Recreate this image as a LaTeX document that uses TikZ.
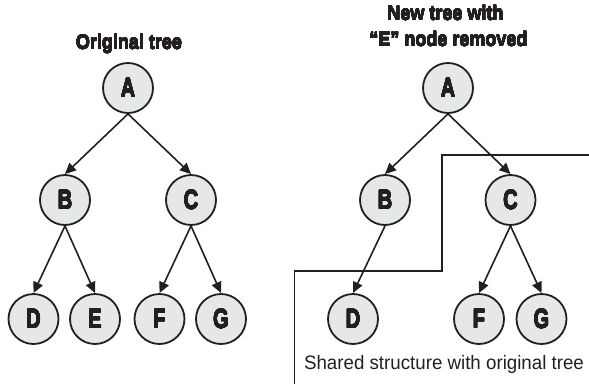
\documentclass[tikz,border=0pt]{standalone}
\usepackage{fontspec}
\usepackage[copies]{contour}
\contournumber{16}
\setmainfont{Liberation Sans}
\newfontface\headfont{Liberation Sans Bold}[FakeStretch=0.9]
\newfontface\letterfont{Liberation Sans Bold}[FakeStretch=0.74]
\newfontface\notefont{Liberation Sans}[FakeStretch=0.96]
\usetikzlibrary{arrows.meta}
\definecolor{ink}{HTML}{231F20}
\definecolor{nodefill}{HTML}{E6E7E8}
% heavier strokes for the bold labels
\newcommand{\heavy}[2]{{\contourlength{#1}\contour{ink}{#2}}}
\tikzset{
  treenode/.style={circle, draw=ink, line width=1.8pt, fill=nodefill,
    minimum size=50pt, inner sep=0pt, text=ink,
    font=\letterfont\fontsize{27}{27}\selectfont},
  link/.style={draw=ink, line width=1.6pt, -{Triangle[length=11pt,width=10pt]}},
  heading/.style={text=ink, inner sep=0pt, anchor=base,
    font=\headfont\fontsize{20}{20}\selectfont},
  caption/.style={text=ink, inner sep=0pt, anchor=base,
    font=\notefont\fontsize{19.5}{19.5}\selectfont},
  boundary/.style={draw=ink, line width=1.6pt}
}
\begin{document}
\begin{tikzpicture}[x=1pt,y=-1pt]
\useasboundingbox (0,0) rectangle (589,384);

% original tree
\node[heading] (titleL) at (129,49) {\heavy{0.15pt}{Original tree}};
\node[treenode] (lA) at (128,88) {\heavy{0.25pt}{A}};
\node[treenode] (lB) at (65,200) {\heavy{0.25pt}{B}};
\node[treenode] (lC) at (191,200) {\heavy{0.25pt}{C}};
\node[treenode] (lD) at (33.5,319) {\heavy{0.25pt}{D}};
\node[treenode] (lE) at (95,319) {\heavy{0.25pt}{E}};
\node[treenode] (lF) at (159.5,319) {\heavy{0.25pt}{F}};
\node[treenode] (lG) at (221,319) {\heavy{0.25pt}{G}};
\draw[link] (lA.south) -- (lB.north);
\draw[link] (lA.south) -- (lC.north);
\draw[link] (lB.south) -- (lD.north);
\draw[link] (lB.south) -- (lE.north);
\draw[link] (lC.south) -- (lF.north);
\draw[link] (lC.south) -- (lG.north);

% new tree after removing E
\node[heading] (titleR1) at (445.5,20) {\heavy{0.15pt}{New tree with}};
\node[heading] (titleR2) at (448.5,46) {\heavy{0.15pt}{“E” node removed}};
\node[treenode] (rA) at (448,88) {\heavy{0.25pt}{A}};
\node[treenode] (rB) at (385,200) {\heavy{0.25pt}{B}};
\node[treenode] (rC) at (510.5,200) {\heavy{0.25pt}{C}};
\node[treenode] (rD) at (353,319) {\heavy{0.25pt}{D}};
\node[treenode] (rF) at (479,319) {\heavy{0.25pt}{F}};
\node[treenode] (rG) at (541.5,319) {\heavy{0.25pt}{G}};
\draw[link] (rA.south) -- (rB.north);
\draw[link] (rA.south) -- (rC.north);
\draw[link] (rB.south) -- (rD.north);
\draw[link] (rC.south) -- (rF.north);
\draw[link] (rC.south) -- (rG.north);

% outline of the shared part
\coordinate (sharedTop) at (589,155);
\coordinate (sharedBottom) at (294.5,384);
\draw[boundary] (sharedTop) -- (442,155) -- (442,271) -- (294.5,271) -- (sharedBottom);
\node[caption] (sharedLabel) at (444,369) {Shared structure with original tree};
\end{tikzpicture}
\end{document}
